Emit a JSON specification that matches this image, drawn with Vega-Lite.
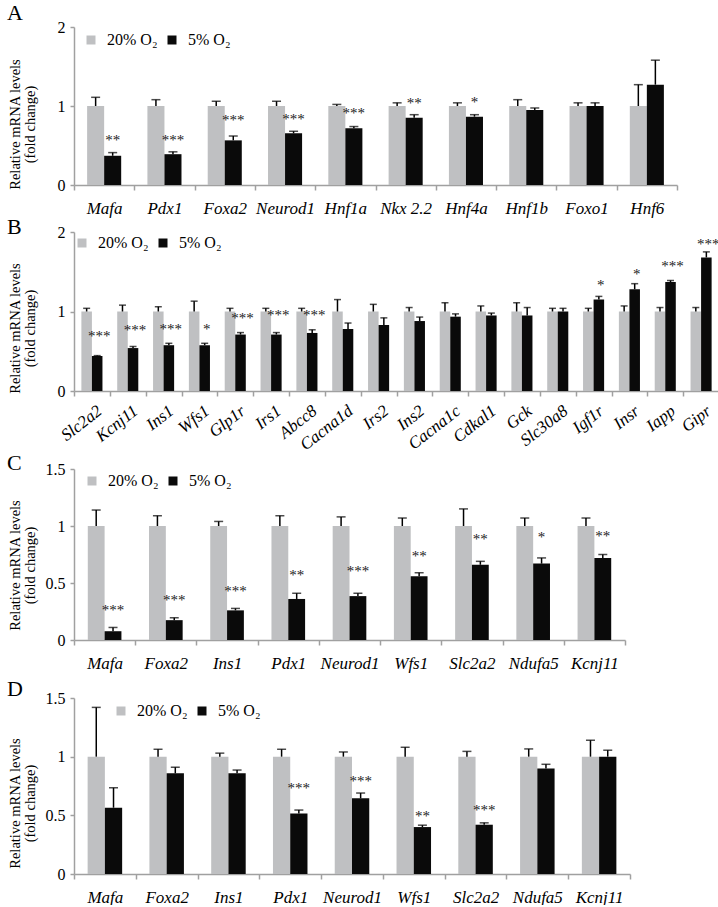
{
  "$schema": "https://vega.github.io/schema/vega-lite/v6.json",
  "padding": {"left": 6, "top": 2, "right": 0, "bottom": 0},
  "background": "white",
  "spacing": -2,
  "config": {
    "font": "Liberation Serif",
    "view": {"stroke": null},
    "axis": {"labelFont": "Liberation Serif", "titleFont": "Liberation Serif", "labelColor": "#000", "titleColor": "#000", "domainColor": "#a0a0a0", "tickColor": "#a0a0a0", "grid": false, "domainWidth": 1.5, "tickWidth": 1.5},
    "axisY": {"titleX": -52, "titleBaseline": "bottom", "titleAngle": -90, "titleFontSize": 14.5, "titleFontWeight": "normal", "titleLineHeight": 15, "labelFontSize": 16, "tickSize": 4, "labelPadding": 5, "format": "~g"},
    "title": {"anchor": "start", "frame": "bounds", "fontSize": 22, "fontWeight": "normal", "font": "Liberation Serif", "color": "#000", "baseline": "alphabetic"},
    "legend": {"labelFont": "Liberation Serif", "labelFontSize": 16, "labelColor": "#000", "symbolType": "square", "symbolSize": 81, "symbolStrokeWidth": 0, "labelOffset": 8, "columnPadding": 6, "orient": "none", "direction": "horizontal"}
  },
  "resolve": {"scale": {"x": "independent", "y": "independent", "xOffset": "independent", "color": "independent"}, "legend": {"color": "independent"}},
  "datasets": {
    "A": [
      {"gene": "Mafa", "group": "20% O₂", "mean": 1, "upper": 1.11}, {"gene": "Mafa", "group": "5% O₂", "mean": 0.37, "upper": 0.41},
      {"gene": "Pdx1", "group": "20% O₂", "mean": 1, "upper": 1.08}, {"gene": "Pdx1", "group": "5% O₂", "mean": 0.39, "upper": 0.42},
      {"gene": "Foxa2", "group": "20% O₂", "mean": 1, "upper": 1.06}, {"gene": "Foxa2", "group": "5% O₂", "mean": 0.565, "upper": 0.62},
      {"gene": "Neurod1", "group": "20% O₂", "mean": 1, "upper": 1.06}, {"gene": "Neurod1", "group": "5% O₂", "mean": 0.654, "upper": 0.68},
      {"gene": "Hnf1a", "group": "20% O₂", "mean": 1, "upper": 1.02}, {"gene": "Hnf1a", "group": "5% O₂", "mean": 0.717, "upper": 0.74},
      {"gene": "Nkx 2.2", "group": "20% O₂", "mean": 1, "upper": 1.04}, {"gene": "Nkx 2.2", "group": "5% O₂", "mean": 0.85, "upper": 0.89},
      {"gene": "Hnf4a", "group": "20% O₂", "mean": 1, "upper": 1.04}, {"gene": "Hnf4a", "group": "5% O₂", "mean": 0.865, "upper": 0.89},
      {"gene": "Hnf1b", "group": "20% O₂", "mean": 1, "upper": 1.08}, {"gene": "Hnf1b", "group": "5% O₂", "mean": 0.95, "upper": 0.975},
      {"gene": "Foxo1", "group": "20% O₂", "mean": 1, "upper": 1.04}, {"gene": "Foxo1", "group": "5% O₂", "mean": 1.0, "upper": 1.04},
      {"gene": "Hnf6", "group": "20% O₂", "mean": 1, "upper": 1.27}, {"gene": "Hnf6", "group": "5% O₂", "mean": 1.27, "upper": 1.58}
    ],
    "A_sig": [
      {"gene": "Mafa", "group": "5% O₂", "sig": "**", "at": 0.61},
      {"gene": "Pdx1", "group": "5% O₂", "sig": "***", "at": 0.61},
      {"gene": "Foxa2", "group": "5% O₂", "sig": "***", "at": 0.86},
      {"gene": "Neurod1", "group": "5% O₂", "sig": "***", "at": 0.875},
      {"gene": "Hnf1a", "group": "5% O₂", "sig": "***", "at": 0.95},
      {"gene": "Nkx 2.2", "group": "5% O₂", "sig": "**", "at": 1.07},
      {"gene": "Hnf4a", "group": "5% O₂", "sig": "*", "at": 1.09}
    ],
    "B": [
      {"gene": "Slc2a2", "group": "20% O₂", "mean": 1, "upper": 1.04}, {"gene": "Slc2a2", "group": "5% O₂", "mean": 0.44, "upper": 0.445},
      {"gene": "Kcnj11", "group": "20% O₂", "mean": 1, "upper": 1.08}, {"gene": "Kcnj11", "group": "5% O₂", "mean": 0.54, "upper": 0.56},
      {"gene": "Ins1", "group": "20% O₂", "mean": 1, "upper": 1.06}, {"gene": "Ins1", "group": "5% O₂", "mean": 0.576, "upper": 0.6},
      {"gene": "Wfs1", "group": "20% O₂", "mean": 1, "upper": 1.13}, {"gene": "Wfs1", "group": "5% O₂", "mean": 0.576, "upper": 0.6},
      {"gene": "Glp1r", "group": "20% O₂", "mean": 1, "upper": 1.04}, {"gene": "Glp1r", "group": "5% O₂", "mean": 0.71, "upper": 0.735},
      {"gene": "Irs1", "group": "20% O₂", "mean": 1, "upper": 1.04}, {"gene": "Irs1", "group": "5% O₂", "mean": 0.71, "upper": 0.735},
      {"gene": "Abcc8", "group": "20% O₂", "mean": 1, "upper": 1.04}, {"gene": "Abcc8", "group": "5% O₂", "mean": 0.73, "upper": 0.77},
      {"gene": "Cacna1d", "group": "20% O₂", "mean": 1, "upper": 1.15}, {"gene": "Cacna1d", "group": "5% O₂", "mean": 0.78, "upper": 0.855},
      {"gene": "Irs2", "group": "20% O₂", "mean": 1, "upper": 1.09}, {"gene": "Irs2", "group": "5% O₂", "mean": 0.83, "upper": 0.92},
      {"gene": "Ins2", "group": "20% O₂", "mean": 1, "upper": 1.05}, {"gene": "Ins2", "group": "5% O₂", "mean": 0.88, "upper": 0.93},
      {"gene": "Cacna1c", "group": "20% O₂", "mean": 1, "upper": 1.11}, {"gene": "Cacna1c", "group": "5% O₂", "mean": 0.935, "upper": 0.97},
      {"gene": "Cdkal1", "group": "20% O₂", "mean": 1, "upper": 1.07}, {"gene": "Cdkal1", "group": "5% O₂", "mean": 0.95, "upper": 0.98},
      {"gene": "Gck", "group": "20% O₂", "mean": 1, "upper": 1.11}, {"gene": "Gck", "group": "5% O₂", "mean": 0.95, "upper": 1.05},
      {"gene": "Slc30a8", "group": "20% O₂", "mean": 1, "upper": 1.04}, {"gene": "Slc30a8", "group": "5% O₂", "mean": 1.0, "upper": 1.04},
      {"gene": "Igf1r", "group": "20% O₂", "mean": 1, "upper": 1.04}, {"gene": "Igf1r", "group": "5% O₂", "mean": 1.15, "upper": 1.19},
      {"gene": "Insr", "group": "20% O₂", "mean": 1, "upper": 1.07}, {"gene": "Insr", "group": "5% O₂", "mean": 1.28, "upper": 1.35},
      {"gene": "Iapp", "group": "20% O₂", "mean": 1, "upper": 1.05}, {"gene": "Iapp", "group": "5% O₂", "mean": 1.37, "upper": 1.39},
      {"gene": "Gipr", "group": "20% O₂", "mean": 1, "upper": 1.05}, {"gene": "Gipr", "group": "5% O₂", "mean": 1.68, "upper": 1.75}
    ],
    "B_sig": [
      {"gene": "Slc2a2", "group": "5% O₂", "sig": "***", "at": 0.73},
      {"gene": "Kcnj11", "group": "5% O₂", "sig": "***", "at": 0.8},
      {"gene": "Ins1", "group": "5% O₂", "sig": "***", "at": 0.82},
      {"gene": "Wfs1", "group": "5% O₂", "sig": "*", "at": 0.82},
      {"gene": "Glp1r", "group": "5% O₂", "sig": "***", "at": 0.96},
      {"gene": "Irs1", "group": "5% O₂", "sig": "***", "at": 0.99},
      {"gene": "Abcc8", "group": "5% O₂", "sig": "***", "at": 0.99},
      {"gene": "Igf1r", "group": "5% O₂", "sig": "*", "at": 1.37},
      {"gene": "Insr", "group": "5% O₂", "sig": "*", "at": 1.51},
      {"gene": "Iapp", "group": "5% O₂", "sig": "***", "at": 1.61},
      {"gene": "Gipr", "group": "5% O₂", "sig": "***", "at": 1.89}
    ],
    "C": [
      {"gene": "Mafa", "group": "20% O₂", "mean": 1, "upper": 1.14}, {"gene": "Mafa", "group": "5% O₂", "mean": 0.077, "upper": 0.11},
      {"gene": "Foxa2", "group": "20% O₂", "mean": 1, "upper": 1.09}, {"gene": "Foxa2", "group": "5% O₂", "mean": 0.174, "upper": 0.195},
      {"gene": "Ins1", "group": "20% O₂", "mean": 1, "upper": 1.04}, {"gene": "Ins1", "group": "5% O₂", "mean": 0.26, "upper": 0.277},
      {"gene": "Pdx1", "group": "20% O₂", "mean": 1, "upper": 1.09}, {"gene": "Pdx1", "group": "5% O₂", "mean": 0.36, "upper": 0.41},
      {"gene": "Neurod1", "group": "20% O₂", "mean": 1, "upper": 1.08}, {"gene": "Neurod1", "group": "5% O₂", "mean": 0.385, "upper": 0.41},
      {"gene": "Wfs1", "group": "20% O₂", "mean": 1, "upper": 1.07}, {"gene": "Wfs1", "group": "5% O₂", "mean": 0.56, "upper": 0.59},
      {"gene": "Slc2a2", "group": "20% O₂", "mean": 1, "upper": 1.15}, {"gene": "Slc2a2", "group": "5% O₂", "mean": 0.66, "upper": 0.69},
      {"gene": "Ndufa5", "group": "20% O₂", "mean": 1, "upper": 1.07}, {"gene": "Ndufa5", "group": "5% O₂", "mean": 0.67, "upper": 0.72},
      {"gene": "Kcnj11", "group": "20% O₂", "mean": 1, "upper": 1.07}, {"gene": "Kcnj11", "group": "5% O₂", "mean": 0.72, "upper": 0.75}
    ],
    "C_sig": [
      {"gene": "Mafa", "group": "5% O₂", "sig": "***", "at": 0.29},
      {"gene": "Foxa2", "group": "5% O₂", "sig": "***", "at": 0.38},
      {"gene": "Ins1", "group": "5% O₂", "sig": "***", "at": 0.46},
      {"gene": "Pdx1", "group": "5% O₂", "sig": "**", "at": 0.6},
      {"gene": "Neurod1", "group": "5% O₂", "sig": "***", "at": 0.63},
      {"gene": "Wfs1", "group": "5% O₂", "sig": "**", "at": 0.765},
      {"gene": "Slc2a2", "group": "5% O₂", "sig": "**", "at": 0.91},
      {"gene": "Ndufa5", "group": "5% O₂", "sig": "*", "at": 0.93},
      {"gene": "Kcnj11", "group": "5% O₂", "sig": "**", "at": 0.94}
    ],
    "D": [
      {"gene": "Mafa", "group": "20% O₂", "mean": 1, "upper": 1.42}, {"gene": "Mafa", "group": "5% O₂", "mean": 0.565, "upper": 0.735},
      {"gene": "Foxa2", "group": "20% O₂", "mean": 1, "upper": 1.063}, {"gene": "Foxa2", "group": "5% O₂", "mean": 0.858, "upper": 0.91},
      {"gene": "Ins1", "group": "20% O₂", "mean": 1, "upper": 1.03}, {"gene": "Ins1", "group": "5% O₂", "mean": 0.858, "upper": 0.886},
      {"gene": "Pdx1", "group": "20% O₂", "mean": 1, "upper": 1.063}, {"gene": "Pdx1", "group": "5% O₂", "mean": 0.516, "upper": 0.545},
      {"gene": "Neurod1", "group": "20% O₂", "mean": 1, "upper": 1.04}, {"gene": "Neurod1", "group": "5% O₂", "mean": 0.645, "upper": 0.69},
      {"gene": "Wfs1", "group": "20% O₂", "mean": 1, "upper": 1.08}, {"gene": "Wfs1", "group": "5% O₂", "mean": 0.4, "upper": 0.416},
      {"gene": "Slc2a2", "group": "20% O₂", "mean": 1, "upper": 1.045}, {"gene": "Slc2a2", "group": "5% O₂", "mean": 0.42, "upper": 0.436},
      {"gene": "Ndufa5", "group": "20% O₂", "mean": 1, "upper": 1.066}, {"gene": "Ndufa5", "group": "5% O₂", "mean": 0.9, "upper": 0.935},
      {"gene": "Kcnj11", "group": "20% O₂", "mean": 1, "upper": 1.14}, {"gene": "Kcnj11", "group": "5% O₂", "mean": 1.0, "upper": 1.055}
    ],
    "D_sig": [
      {"gene": "Pdx1", "group": "5% O₂", "sig": "***", "at": 0.755},
      {"gene": "Neurod1", "group": "5% O₂", "sig": "***", "at": 0.82},
      {"gene": "Wfs1", "group": "5% O₂", "sig": "**", "at": 0.52},
      {"gene": "Slc2a2", "group": "5% O₂", "sig": "***", "at": 0.575}
    ]
  },
  "vconcat": [
    {
      "width": 603, "height": 158,
      "title": {"text": "A", "offset": -6},
      "data": {"name": "A"},
      "encoding": {
        "x": {"field": "gene", "type": "nominal", "scale": {"domain": ["Mafa", "Pdx1", "Foxa2", "Neurod1", "Hnf1a", "Nkx 2.2", "Hnf4a", "Hnf1b", "Foxo1", "Hnf6"], "paddingInner": 0, "paddingOuter": 0},
              "axis": {"title": null, "labelAngle": 0, "labelFontSize": 17, "labelFontStyle": "italic", "tickBand": "extent", "tickSize": 5, "labelPadding": 10, "minExtent": 33}},
        "xOffset": {"field": "group", "type": "nominal", "scale": {"domain": ["20% O₂", "5% O₂"], "paddingOuter": 0.77, "paddingInner": 0}}
      },
      "layer": [
        {"mark": {"type": "bar"},
         "encoding": {
           "y": {"field": "mean", "type": "quantitative", "scale": {"domain": [0, 2], "nice": false},
                 "axis": {"values": [0, 0.5, 1, 1.5, 2], "title": ["Relative mRNA levels", "(fold change)"], "titleY": 97}},
           "color": {"field": "group", "type": "nominal", "scale": {"domain": ["20% O₂", "5% O₂"], "range": ["#bfc0c2", "#0a0a0a"]},
                     "legend": {"title": null, "legendX": 9, "legendY": 5}}}},
        {"mark": {"type": "rule", "color": "#000", "strokeWidth": 1.5},
         "encoding": {"y": {"field": "mean", "type": "quantitative"}, "y2": {"field": "upper"}}},
        {"mark": {"type": "tick", "color": "#000", "thickness": 1.5, "size": 9},
         "encoding": {"y": {"field": "upper", "type": "quantitative"}}},
        {"data": {"name": "A_sig"},
         "mark": {"type": "text", "fontSize": 15, "fill": "#222222", "baseline": "alphabetic", "dy": 8},
         "encoding": {"y": {"field": "at", "type": "quantitative"}, "text": {"field": "sig"}}}
      ]
    },
    {
      "width": 645, "height": 159,
      "title": {"text": "B", "offset": -15},
      "data": {"name": "B"},
      "encoding": {
        "x": {"field": "gene", "type": "nominal", "scale": {"domain": ["Slc2a2", "Kcnj11", "Ins1", "Wfs1", "Glp1r", "Irs1", "Abcc8", "Cacna1d", "Irs2", "Ins2", "Cacna1c", "Cdkal1", "Gck", "Slc30a8", "Igf1r", "Insr", "Iapp", "Gipr"], "paddingInner": 0, "paddingOuter": 0},
              "axis": {"title": null, "labels": false, "tickBand": "extent", "tickSize": 5, "minExtent": 61}}
      },
      "layer": [
        {"mark": {"type": "bar"},
         "encoding": {
           "xOffset": {"field": "group", "type": "nominal", "scale": {"domain": ["20% O₂", "5% O₂"], "paddingOuter": 0.7, "paddingInner": 0}},
           "y": {"field": "mean", "type": "quantitative", "scale": {"domain": [0, 2], "nice": false},
                 "axis": {"values": [0, 0.5, 1, 1.5, 2], "title": ["Relative mRNA levels", "(fold change)"], "titleY": 96}},
           "color": {"field": "group", "type": "nominal", "scale": {"domain": ["20% O₂", "5% O₂"], "range": ["#bfc0c2", "#0a0a0a"]},
                     "legend": {"title": null, "legendX": 0, "legendY": 3}}}},
        {"mark": {"type": "rule", "color": "#000", "strokeWidth": 1.5},
         "encoding": {"xOffset": {"field": "group", "type": "nominal"}, "y": {"field": "mean", "type": "quantitative"}, "y2": {"field": "upper"}}},
        {"mark": {"type": "tick", "color": "#000", "thickness": 1.5, "size": 7},
         "encoding": {"xOffset": {"field": "group", "type": "nominal"}, "y": {"field": "upper", "type": "quantitative"}}},
        {"data": {"name": "B_sig"},
         "mark": {"type": "text", "fontSize": 15, "fill": "#222222", "baseline": "alphabetic", "dy": 8, "dx": 2},
         "encoding": {"xOffset": {"field": "group", "type": "nominal"}, "y": {"field": "at", "type": "quantitative"}, "text": {"field": "sig"}}},
        {"transform": [{"filter": "datum.group === '20% O₂'"}],
         "mark": {"type": "text", "angle": 322, "align": "right", "baseline": "top", "dx": 4, "fontSize": 17, "fontStyle": "italic", "font": "Liberation Serif", "fill": "#000"},
         "encoding": {"y": {"datum": -0.18, "type": "quantitative", "scale": {"domain": [0, 2], "nice": false}}, "text": {"field": "gene"}}}
      ]
    },
    {
      "width": 551, "height": 171,
      "title": {"text": "C", "offset": -14},
      "data": {"name": "C"},
      "encoding": {
        "x": {"field": "gene", "type": "nominal", "scale": {"domain": ["Mafa", "Foxa2", "Ins1", "Pdx1", "Neurod1", "Wfs1", "Slc2a2", "Ndufa5", "Kcnj11"], "paddingInner": 0, "paddingOuter": 0},
              "axis": {"title": null, "labelAngle": 0, "labelFontSize": 17, "labelFontStyle": "italic", "tickBand": "extent", "tickSize": 5, "labelPadding": 10, "minExtent": 40}},
        "xOffset": {"field": "group", "type": "nominal", "scale": {"domain": ["20% O₂", "5% O₂"], "paddingOuter": 0.82, "paddingInner": 0}}
      },
      "layer": [
        {"mark": {"type": "bar"},
         "encoding": {
           "y": {"field": "mean", "type": "quantitative", "scale": {"domain": [0, 1.5], "nice": false},
                 "axis": {"values": [0, 0.5, 1, 1.5], "title": ["Relative mRNA levels", "(fold change)"], "titleY": 96}},
           "color": {"field": "group", "type": "nominal", "scale": {"domain": ["20% O₂", "5% O₂"], "range": ["#bfc0c2", "#0a0a0a"]},
                     "legend": {"title": null, "legendX": 10, "legendY": 4}}}},
        {"mark": {"type": "rule", "color": "#000", "strokeWidth": 1.5},
         "encoding": {"y": {"field": "mean", "type": "quantitative"}, "y2": {"field": "upper"}}},
        {"mark": {"type": "tick", "color": "#000", "thickness": 1.5, "size": 9},
         "encoding": {"y": {"field": "upper", "type": "quantitative"}}},
        {"data": {"name": "C_sig"},
         "mark": {"type": "text", "fontSize": 15, "fill": "#222222", "baseline": "alphabetic", "dy": 8},
         "encoding": {"y": {"field": "at", "type": "quantitative"}, "text": {"field": "sig"}}}
      ]
    },
    {
      "width": 556, "height": 176,
      "title": {"text": "D", "offset": -11},
      "data": {"name": "D"},
      "encoding": {
        "x": {"field": "gene", "type": "nominal", "scale": {"domain": ["Mafa", "Foxa2", "Ins1", "Pdx1", "Neurod1", "Wfs1", "Slc2a2", "Ndufa5", "Kcnj11"], "paddingInner": 0, "paddingOuter": 0},
              "axis": {"title": null, "labelAngle": 0, "labelFontSize": 17, "labelFontStyle": "italic", "tickBand": "extent", "tickSize": 5, "labelPadding": 10}},
        "xOffset": {"field": "group", "type": "nominal", "scale": {"domain": ["20% O₂", "5% O₂"], "paddingOuter": 0.79, "paddingInner": 0}}
      },
      "layer": [
        {"mark": {"type": "bar"},
         "encoding": {
           "y": {"field": "mean", "type": "quantitative", "scale": {"domain": [0, 1.5], "nice": false},
                 "axis": {"values": [0, 0.5, 1, 1.5], "title": ["Relative mRNA levels", "(fold change)"], "titleY": 105}},
           "color": {"field": "group", "type": "nominal", "scale": {"domain": ["20% O₂", "5% O₂"], "range": ["#bfc0c2", "#0a0a0a"]},
                     "legend": {"title": null, "legendX": 39, "legendY": 5}}}},
        {"mark": {"type": "rule", "color": "#000", "strokeWidth": 1.5},
         "encoding": {"y": {"field": "mean", "type": "quantitative"}, "y2": {"field": "upper"}}},
        {"mark": {"type": "tick", "color": "#000", "thickness": 1.5, "size": 9},
         "encoding": {"y": {"field": "upper", "type": "quantitative"}}},
        {"data": {"name": "D_sig"},
         "mark": {"type": "text", "fontSize": 15, "fill": "#222222", "baseline": "alphabetic", "dy": 8},
         "encoding": {"y": {"field": "at", "type": "quantitative"}, "text": {"field": "sig"}}}
      ]
    }
  ]
}
